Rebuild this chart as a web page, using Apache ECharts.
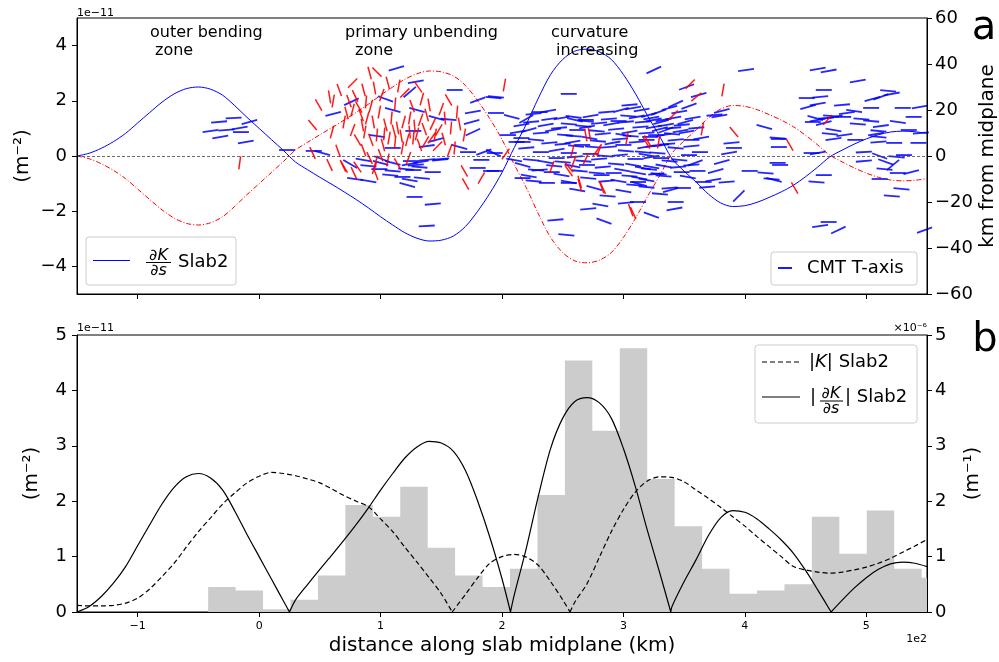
<!DOCTYPE html>
<html><head><meta charset="utf-8">
<script src="https://cdn.jsdelivr.net/npm/echarts@6/dist/echarts.min.js"></script>
<style>html,body{margin:0;padding:0;background:#fff}#c{width:999px;height:662px}</style>
</head><body><div id="c"></div>
<script>
// ---------- data ----------
// signed dK/ds (x1e-11 m^-2), sampled every 10 km
const xKm = [-150,-140,-130,-120,-110,-100,-90,-80,-70,-60,-50,-40,-30,-20,-10,0,10,20,30,40,50,60,70,80,90,100,110,120,130,140,150,160,170,180,190,200,210,220,230,240,250,260,270,280,290,300,310,320,330,340,350,360,370,380,390,400,410,420,430,440,450,460,470,480,490,500,510,520,530,540,550];
const dKds = [0,0.1,0.28,0.52,0.82,1.2,1.58,1.95,2.25,2.44,2.5,2.42,2.2,1.82,1.4,1.0,0.6,0.2,-0.22,-0.5,-0.77,-1.03,-1.3,-1.58,-1.88,-2.2,-2.5,-2.78,-2.98,-3.08,-3.05,-2.9,-2.55,-2.0,-1.35,-0.6,0.3,1.15,2.1,2.95,3.5,3.8,3.87,3.78,3.5,2.95,2.25,1.45,0.7,-0.1,-0.55,-0.95,-1.38,-1.7,-1.83,-1.8,-1.68,-1.5,-1.3,-1.06,-0.75,-0.4,-0.03,0.21,0.43,0.62,0.77,0.87,0.9,0.88,0.82];
const dKdsRed = [0,-0.1,-0.28,-0.52,-0.82,-1.2,-1.58,-1.95,-2.25,-2.44,-2.5,-2.42,-2.2,-1.82,-1.4,-1.0,-0.6,-0.2,0.22,0.5,0.77,1.03,1.3,1.58,1.88,2.2,2.5,2.78,2.98,3.08,3.05,2.9,2.55,2.0,1.35,0.6,-0.3,-1.15,-2.1,-2.95,-3.5,-3.8,-3.87,-3.78,-3.5,-2.95,-2.25,-1.45,-0.7,0.1,0.55,0.95,1.38,1.7,1.83,1.8,1.68,1.5,1.3,1.06,0.75,0.4,0.03,-0.21,-0.43,-0.62,-0.77,-0.87,-0.9,-0.88,-0.82];
// |dK/ds| with its zero crossings
const xAbs = [-150,-140,-130,-120,-110,-100,-90,-80,-70,-60,-50,-40,-30,-20,-10,0,10,20,25,30,40,50,60,70,80,90,100,110,120,130,140,150,160,170,180,190,200,207,210,220,230,240,250,260,270,280,290,300,310,320,330,339,340,350,360,370,380,390,400,410,420,430,440,450,460,471,480,490,500,510,520,530,540,550];
const dKdsAbs = [0,0.1,0.28,0.52,0.82,1.2,1.58,1.95,2.25,2.44,2.5,2.42,2.2,1.82,1.4,1.0,0.6,0.2,0,0.22,0.5,0.77,1.03,1.3,1.58,1.88,2.2,2.5,2.78,2.98,3.08,3.05,2.9,2.55,2.0,1.35,0.6,0,0.3,1.15,2.1,2.95,3.5,3.8,3.87,3.78,3.5,2.95,2.25,1.45,0.7,0,0.1,0.55,0.95,1.38,1.7,1.83,1.8,1.68,1.5,1.3,1.06,0.75,0.4,0,0.21,0.43,0.62,0.77,0.87,0.9,0.88,0.82];
const kX = [-150,-140,-130,-120,-110,-100,-90,-80,-70,-60,-50,-40,-30,-20,-10,0,10,20,30,40,50,60,70,80,90,100,110,120,130,140,150,159,170,180,190,200,210,220,230,240,250,256,260,270,280,290,300,310,320,330,340,350,360,370,380,390,400,410,420,430,440,450,460,470,480,490,500,510,520,530,540,550];
const kAbs = [0.12,0.11,0.11,0.12,0.16,0.25,0.42,0.64,0.88,1.17,1.45,1.7,1.95,2.15,2.33,2.45,2.52,2.5,2.46,2.4,2.33,2.22,2.1,2.0,1.9,1.68,1.45,1.17,0.9,0.62,0.33,0,0.32,0.62,0.88,1.0,1.04,0.99,0.84,0.55,0.22,0,0.18,0.51,0.98,1.45,1.85,2.17,2.37,2.44,2.43,2.35,2.2,2.05,1.89,1.72,1.55,1.36,1.18,1.0,0.82,0.76,0.72,0.7,0.72,0.76,0.81,0.88,0.97,1.08,1.19,1.31];
const histEdges = [-42,-19.4,3.2,25.8,48.4,71,93.6,116.2,138.8,161.4,184,206.6,229.2,251.8,274.4,297,319.6,342.2,364.8,387.4,410,432.6,455.2,477.8,500.4,523,545.6,568.2];
const histVals = [0.45,0.39,0.05,0.22,0.66,1.93,1.72,2.26,1.16,0.66,0.45,0.78,2.11,4.54,3.27,4.76,2.4,1.55,0.78,0.33,0.39,0.5,1.72,1.05,1.83,0.78,0.62];
const xTicks = [-100,0,100,200,300,400,500];
const yTicksTop = [-4,-2,0,2,4];
// CMT T-axis segments: [distance km, km from midplane, angle deg]
const cmtBlue = [
[-33,14.8,5],[-21,16.5,3],[-8,14.8,15],[-40,10.9,8],[-27,11.3,5],[-16,12.2,10],[-15,10.4,0],[-32,8.3,10],[-11,6.1,10],[23,2.6,0],[45,2.2,0],[52,1.3,-15],[61,18.3,15],
[113,38.1,17],[129,32.3,10],[124,27.8,40],[161,28.7,0],[76,23.6,25],[104,24.8,-20],[110,20,-15],[130,20,-15],[146,16.5,-15],[156,15.9,-5],[176,19.1,10],[180,24.3,20],[193,25.4,-5],[175,14.8,15],[176,10.4,25],[97,8.7,-8],[110,3.5,0],[127,10.9,0],[146,7,15],[138,4.3,8],[165,3.9,-15],[172,1.7,0],[150,-1.3,5],[125,-2.2,0],[129,-3.9,5],[121,-5.7,-5],[133,-2.6,10],[124,-3.5,10],[132,-4.8,-5],[127,-6.1,0],[138,-1.7,5],[149,-1.7,5],[183,-1.7,0],[185,1.7,20],[193,1.3,-25],[191,-6.5,0],[180,-5.2,0],[143,-7,0],[110,-6.5,-5],[108,-8.3,-5],[118,-9.1,0],[124,-10.4,-10],[122,-12.6,-15],[134,-9.6,-5],[79,-10,-8],[90,-10.9,-10],[128,-17.8,0],[143,-20.9,5],[138,-30.4,3],[75,-3.5,-30],[86,-1.7,-10],[90,-4.3,-5],[100,-3,-15],[110,-3,-15],[101,-1.3,-20],[99,-5.7,0],
[195,25.7,-5],[195,18.7,0],[208,17,-15],[220,16.1,30],[231,19.1,0],[255,27,0],[259,17,-8],[269,15.7,0],[305,22.2,5],[239,16.1,8],[217,6.1,0],[194,1.3,0],[194,-6.5,0],[217,-9.6,0],[231,-6.1,5],[249,-8.3,-10],[255,-11.7,0],[271,-23,5],[281,-21.3,-10],[284,-28.3,-20],[244,-27.8,5],[253,-34.3,-5],[287,-17.4,-5],[302,-20.4,5],[312,-11.3,0],
[216,13.5,10],[224,14.8,5],[236,13.5,10],[222,11.3,15],[232,10,5],[242,11.3,10],[216,7.8,0],[228,7,-5],[239,5.7,5],[220,3.5,5],[232,1.7,0],[245,2.6,10],[224,-1.7,-5],[236,-2.6,-10],[245,-0.9,0],[217,-3.9,-15],[228,-6.1,-5],[241,-7,0],[222,-8.7,-10],[212,6.1,0],[249,16.5,10],[273,17.4,10],[286,19.1,5],[298,20,15],[308,20.9,10],[302,14.8,5],
[260,15.7,-12],[269,15.2,-5],[255,13.9,-5],[267,13,-5],[280,14.3,5],[288,16.1,5],[304,17.4,-5],[311,17,10],[325,15.7,10],[335,13.5,10],[294,11.7,5],[305,10.4,10],[319,10,5],[333,9.1,10],[259,8.7,-5],[272,7.8,-10],[283,9.6,5],[297,7.4,5],[311,6.1,5],[325,4.3,5],[261,4.3,-5],[275,3.9,-5],[288,3.9,5],[302,2.2,-5],[316,1.7,-5],[255,1.3,0],[267,-2.2,-5],[280,-1.3,5],[294,-3.5,-5],[308,-3.9,-10],[321,-5.7,-5],[264,-6.5,-5],[278,-7.4,-5],[292,-7.4,0],[313,-9.6,-10],[327,-7.8,5],[286,-10.9,5],[255,-11.3,-10],[319,-13.5,-5],[338,-13.9,5],[338,-2.2,-5],
[315,20,10],[321,17.8,15],[329,19.1,20],[338,20.9,15],[346,19.1,10],[354,21.7,20],[316,14.8,5],[325,12.6,10],[333,15.7,10],[341,12.2,5],[351,14.8,15],[357,16.5,10],[319,7,0],[331,4.8,5],[343,3.5,-5],[356,4.3,5],[364,7.8,10],[319,0.4,-10],[331,-0.9,0],[346,-1.7,-5],[356,-3.9,5],[316,-5.2,-10],[333,-8.7,-5],[348,-7,0],[319,-10.4,-10],
[226,18.3,5],[238,19.6,10],[247,12.2,5],[252,9.1,-5],[262,11.3,0],[270,12.6,10],[278,10.9,-5],[290,13.9,10],[296,15.2,0],[300,9.1,-10],[314,12.6,5],[322,8.3,0],[330,11.7,15],[340,9.6,-5],[347,10.9,10],[360,12.2,5],[250,5.2,5],[258,6.1,10],[266,4.8,0],[279,6.5,-5],[291,5.7,10],[300,4.8,0],[306,8.7,-5],[318,3.9,10],[328,1.3,-5],[336,5.2,5],[250,-2.6,-5],[260,-0.4,5],[273,0.9,0],[285,0,-5],[297,0.4,5],[310,-1.3,0],[323,-0.4,10],[333,-4.3,-10],[345,-4.8,5],[353,-9.1,-10],[243,-4.3,-5],[258,-4.3,-10],[270,-3.9,0],[283,-4.8,5],[299,-6.1,-10],[305,-8.7,-5],[271,-9.6,-5],[282,-8.3,0],[296,-10.9,-10],[309,-12.6,-5],[262,-14.8,-10],[276,-13.9,-15],[300,-15.2,-10],[330,-16.5,-5],[226,-10.9,-5],[237,-11.7,0],[210,-1.7,-10],[213,10.4,10],[205,9.1,0],
[325,37.4,25],[352,30,20],[362,26.5,15],[401,37.4,8],[343,22.6,25],[323,16.5,10],[331,14.8,15],[341,16.5,10],[348,13.5,5],[335,11.3,20],[352,10.4,10],[327,9.1,0],[343,7,5],[356,7,0],[381,19.6,15],[375,17.8,5],[379,17.4,10],[416,12.6,-15],[427,7.8,-5],[389,5.7,5],[391,3.5,0],[387,1.3,10],[363,1.7,0],[354,0.4,0],[359,-3,20],[361,-6.5,0],[381,-2.6,15],[376,-6.5,15],[366,-11.3,0],[374,-10.4,10],[385,-11.3,5],[349,-13.9,0],[369,-13.5,5],[339,-14.8,15],[343,-20,0],[342,-23,10],[323,-25.7,-20],[395,-17.4,45],[404,-6.5,0],[417,-7.4,-5],[422,-10,-5],[427,-3,0],[312,-7.4,-10],[313,-12.2,-15],[323,-4.8,-10],[329,-7.8,-5],[312,-20,0],
[460,37.8,10],[469,37,10],[493,32.6,10],[465,28.7,0],[451,25.2,0],[462,25.7,5],[518,28.3,-5],[505,24.8,15],[512,25.7,20],[521,27,10],[480,22.2,5],[452,21.3,15],[460,22.6,10],[490,19.6,-8],[504,20.9,0],[530,20.9,0],[544,21.3,10],[458,16.5,-15],[460,15.7,10],[467,16.5,5],[465,14.3,15],[471,17.4,-5],[456,14.8,0],[474,17,10],[481,17,0],[484,18.7,8],[496,16.1,-5],[493,13.9,-5],[504,15.2,-5],[512,13,8],[510,10.9,-5],[508,9.6,10],[526,14.8,-8],[535,11.3,0],[539,17,0],[545,10,5],[473,11.3,-10],[470,9.6,-5],[473,7.4,8],[482,9.1,8],[491,7,0],[510,8.3,-5],[510,6.1,5],[523,5.7,0],[543,5.7,0],[428,7.4,0],[428,3.9,0],[460,1.3,10],[455,1.3,0],[498,1.7,3],[511,0,-20],[498,-2.2,5],[525,-0.4,-5],[531,0.4,0],[516,-2.6,-20],[522,-3.9,40],[515,-5.7,-5],[537,-7,15],[526,-7.4,0],[429,-3.9,0],[465,-8.3,0],[459,-11.3,-5],[511,-10,0],[529,-14.3,-5],[521,-17.4,-5],[462,-30.4,8],[469,-28.7,0],[477,-32.2,25],[548,-32.2,20],[424,-10.4,-15]
];
const cmtRed = [
[-16,-3,82],[44,13.5,-50],[49,22.2,-60],[58,25.7,-80],[61,23.9,80],[44,1.3,-65],[58,-3.9,-65],[69,-4.3,-65],
[91,36.1,-75],[97,36.5,-45],[77,31.7,45],[86,28.7,-75],[112,22.6,85],[120,27.4,45],[131,30,-55],[74,23.9,-70],[72,18.7,-75],[77,20,75],[82,21.3,-60],
[84,17.8,-70],[89,16.5,75],[94,14.8,-80],[99,19.1,80],[104,13.5,-75],[109,16.5,85],[114,12.2,-80],[119,14.8,75],[124,16.5,80],[128,13,-85],[133,15.7,70],[138,17.8,-75],[143,13.9,65],[148,11.3,60],[153,16.5,-85],[158,12.2,85],
[87,10.4,80],[92,7,-70],[97,9.1,85],[102,4.8,-75],[107,7.8,80],[112,6.1,85],[117,8.7,-80],[122,7,75],[127,7.8,85],[132,4.8,-70],[137,6.1,60],[142,7.8,55],[147,4.3,45],[81,7,-60],[77,11.3,70],[86,2.6,-70],[91,-0.9,-65],[96,-2.6,75],
[161,3.5,85],[169,9.1,80],[183,-9.6,60],[169,-6.5,-60],[70,-4.8,-60],[81,-4.8,-55],[95,-5.2,70],[96,-7.8,-70],
[66,28.7,-70],[70,14.8,80],[79,26.1,-65],[88,23.5,85],[95,29.6,-80],[101,26.5,70],[106,31.7,-75],[115,30.4,80],[126,21.7,-70],[134,24.8,75],[140,22.2,-80],[150,20.4,70],[156,24.3,-60],[163,19.1,85],[85,13.5,-80],[92,21.7,75],[103,9.6,85],[111,10.9,-75],[118,3.5,80],[124,10.4,-85],[130,9.6,75],[136,11.7,-70],[145,9.1,80],[152,7.4,-75],[157,2.6,70],[165,13.9,-80],[100,0.4,-70],[106,-1.7,80],[114,-3.5,-60],[123,-0.9,70],[78,-7.4,-65],[65,2.2,-70],[60,10.4,75],[170,-12.2,-60],
[202,30.9,80],[203,0.9,55],[241,-4.8,70],[255,-4.8,-50],[258,2.2,75],[264,-12.6,-75],[272,9.6,-80],[278,2.2,55],[282,-13.5,-70],[306,-23.5,-70],[303,7.8,80],
[269,9.1,-80],[280,2.6,70],[319,5.7,-60],[329,6.1,80],[259,-2.6,70],[269,-1.3,65],[255,-6.5,-55],[283,-13.9,-65],[264,-11.3,-75],
[355,31.3,45],[360,25.7,40],[382,28.7,80],[365,11.7,80],[391,10.4,-50],[341,17.8,45],[320,6.5,-60],[308,-24.8,-65],
[468,15.7,50],[441,-13.9,-60],[437,4.8,-60]
];

// ---------- helpers ----------
const FONT = 'DejaVu Sans';
const pair = (xs, ys) => xs.map((x, i) => [x, ys[i]]);
// break an |f| curve at its interior zeros so each lobe is smoothed separately (sharp V at zeros)
function lobes(xs, ys) {
  const out = [];
  xs.forEach((x, i) => {
    out.push([x, ys[i]]);
    if (ys[i] === 0 && i > 0 && i < xs.length - 1) { out.push(null); out.push([x, ys[i]]); }
  });
  return out;
}
const histData = histEdges.map((e, i) => [e, histVals[Math.min(i, histVals.length - 1)]]);
const minus = v => (v < 0 ? '\u2212' + (-v) : '' + v);

function segRender(len, color, width, op) {
  return function (params, api) {
    const c = api.coord([api.value(0), api.value(1)]);
    const a = api.value(2) * Math.PI / 180;
    const dx = Math.cos(a) * len / 2, dy = Math.sin(a) * len / 2;
    return { type: 'line', shape: { x1: c[0] - dx, y1: c[1] + dy, x2: c[0] + dx, y2: c[1] - dy },
             style: { stroke: color, lineWidth: width, opacity: op } };
  };
}
function T(x, y, text, size, extra) {
  return { type: 'text', x: x, y: y, z: 100,
    style: Object.assign({ text: text, fontSize: size, fontFamily: FONT, fill: '#000', align: 'left', verticalAlign: 'middle' }, extra || {}) };
}
function L(x1, y1, x2, y2, color, w, dash) {
  return { type: 'line', z: 100, shape: { x1, y1, x2, y2 }, style: { stroke: color, lineWidth: w, lineDash: dash || null } };
}
function box(x, y, w, h) {
  return { type: 'rect', z: 99, shape: { x, y, width: w, height: h, r: 3 }, style: { fill: 'rgba(255,255,255,0.8)', stroke: '#cccccc', lineWidth: 1 } };
}

const axLine = { show: true, onZero: false, lineStyle: { color: '#000', width: 1 } };
const axTick = { show: true, inside: false, length: 5, lineStyle: { color: '#000', width: 1 } };
const lbl = (size, margin) => ({ color: '#000', fontSize: size, fontFamily: FONT, margin: margin });
const nameStyle = { color: '#000', fontSize: 20, fontFamily: FONT };

const chart = echarts.init(document.getElementById('c'), null, { renderer: 'canvas' });
chart.setOption({
  animation: false,
  backgroundColor: '#fff',
  grid: [
    { left: 77, top: 18, width: 850, height: 276, show: true, borderColor: '#000', borderWidth: 1, containLabel: false, outerBoundsMode: 'none' },
    { left: 77, top: 335, width: 850, height: 277, show: true, borderColor: '#000', borderWidth: 1, containLabel: false, outerBoundsMode: 'none' }
  ],
  xAxis: [
    { type: 'value', gridIndex: 0, min: -150, max: 550, z: 10, axisLine: axLine,
      axisTick: Object.assign({ customValues: xTicks }, axTick),
      axisLabel: { show: false, customValues: xTicks }, splitLine: { show: false } },
    { type: 'value', gridIndex: 1, min: -150, max: 550, z: 10, axisLine: axLine,
      axisTick: Object.assign({ customValues: xTicks }, axTick),
      axisLabel: Object.assign({ customValues: xTicks, formatter: v => minus(v / 100) }, lbl(11, 9)),
      splitLine: { show: false },
      name: 'distance along slab midplane (km)', nameLocation: 'middle', nameGap: 24, nameMoveOverlap: false,
      nameTextStyle: nameStyle }
  ],
  yAxis: [
    { type: 'value', gridIndex: 0, position: 'left', min: -5, max: 5, z: 10, axisLine: axLine,
      axisTick: Object.assign({ customValues: yTicksTop }, axTick),
      axisLabel: Object.assign({ customValues: yTicksTop, formatter: minus }, lbl(18, 10)),
      splitLine: { show: false },
      name: '(m\u207B\u00B2)', nameLocation: 'middle', nameRotate: 90, nameGap: 44, nameMoveOverlap: false,
      nameTextStyle: nameStyle },
    { type: 'value', gridIndex: 0, position: 'right', min: -60, max: 60, interval: 20, z: 10, axisLine: axLine,
      axisTick: axTick, axisLabel: Object.assign({ formatter: minus }, lbl(18, 8)), splitLine: { show: false },
      name: 'km from midplane', nameLocation: 'middle', nameRotate: 90, nameGap: 51, nameMoveOverlap: false,
      nameTextStyle: nameStyle },
    { type: 'value', gridIndex: 1, position: 'left', min: 0, max: 5, interval: 1, z: 10, axisLine: axLine,
      axisTick: axTick, axisLabel: lbl(18, 10), splitLine: { show: false },
      name: '(m\u207B\u00B2)', nameLocation: 'middle', nameRotate: 90, nameGap: 35, nameMoveOverlap: false,
      nameTextStyle: nameStyle },
    { type: 'value', gridIndex: 1, position: 'right', min: 0, max: 5, interval: 1, z: 10, axisLine: axLine,
      axisTick: axTick, axisLabel: lbl(18, 8), splitLine: { show: false },
      name: '(m\u207B\u00B9)', nameLocation: 'middle', nameRotate: 90, nameGap: 36, nameMoveOverlap: false,
      nameTextStyle: nameStyle }
  ],
  series: [
    { type: 'line', xAxisIndex: 0, yAxisIndex: 0, data: pair(xKm, dKds), showSymbol: false, symbol: 'none', smooth: 0.3,
      lineStyle: { color: '#0000ff', width: 1 }, z: 2,
      markLine: { silent: true, symbol: ['none', 'none'], label: { show: false },
        lineStyle: { color: '#444', type: [3, 2], width: 0.8 }, data: [{ yAxis: 0 }] } },
    { type: 'line', xAxisIndex: 0, yAxisIndex: 0, data: pair(xKm, dKdsRed), showSymbol: false, symbol: 'none', smooth: 0.3,
      lineStyle: { color: '#ff0000', width: 1, type: [5, 2, 1, 2] }, z: 2 },
    { type: 'custom', xAxisIndex: 0, yAxisIndex: 1, data: cmtBlue, renderItem: segRender(16, '#0000ff', 1.8, 0.85), z: 3,
      encode: { x: 0, y: 1 } },
    { type: 'custom', xAxisIndex: 0, yAxisIndex: 1, data: cmtRed, renderItem: segRender(13, '#ff0000', 1.5, 0.9), z: 4,
      encode: { x: 0, y: 1 } },
    { type: 'line', xAxisIndex: 1, yAxisIndex: 2, data: histData, step: 'end', showSymbol: false, symbol: 'none',
      lineStyle: { width: 0, color: '#cccccc' }, areaStyle: { color: '#cccccc', opacity: 1 }, z: 1 },
    { type: 'line', xAxisIndex: 1, yAxisIndex: 3, data: lobes(kX, kAbs), showSymbol: false, symbol: 'none', smooth: 0.3, connectNulls: false,
      lineStyle: { color: '#000', width: 1.2, type: [5, 3] }, z: 3 },
    { type: 'line', xAxisIndex: 1, yAxisIndex: 2, data: lobes(xAbs, dKdsAbs), showSymbol: false, symbol: 'none', smooth: 0.3, connectNulls: false,
      lineStyle: { color: '#000', width: 1.2 }, z: 3 }
  ],
  graphic: [
    T(150, 33, 'outer bending', 16), T(155, 50.5, 'zone', 16),
    T(345, 33, 'primary unbending', 16), T(355, 50.5, 'zone', 16),
    T(551, 33, 'curvature', 16), T(556, 50.5, 'increasing', 16),
    T(984, 29, 'a', 40, { align: 'center' }), T(985, 341, 'b', 40, { align: 'center' }),
    T(77, 13, '1e\u221211', 11), T(77, 328.5, '1e\u221211', 11),
    T(927, 328.5, '\u00D710\u207B\u2076', 11, { align: 'right' }),
    T(927, 639.5, '1e2', 11, { align: 'right' }),
    box(86, 237, 150, 48),
    L(93, 260.5, 130, 260.5, '#0000ff', 1),
    T(158.5, 256, '\u2202K', 16, { align: 'center', fontStyle: 'italic' }),
    L(146, 262.5, 171, 262.5, '#000', 1),
    T(158.5, 271, '\u2202s', 16, { align: 'center', fontStyle: 'italic' }),
    T(178, 262, 'Slab2', 18),
    box(771, 252, 146, 33),
    L(778, 268, 792, 268, '#0000ff', 1.8),
    T(807, 268.5, 'CMT T-axis', 18),
    box(755, 345, 162, 78),
    L(762, 362, 800, 362, '#000', 1.2, [5, 3]),
    { type: 'text', x: 809, y: 362.5, z: 100, style: { text: '{n||}{i|K}{n|| Slab2}', fontSize: 18, fontFamily: FONT, fill: '#000', align: 'left', verticalAlign: 'middle',
      rich: { n: { fontSize: 18, fontFamily: FONT, fill: '#000' }, i: { fontSize: 18, fontFamily: FONT, fontStyle: 'italic', fill: '#000' } } } },
    L(762, 397, 800, 397, '#000', 1.2),
    T(810, 397.5, '|', 18),
    T(831, 394, '\u2202K', 16, { align: 'center', fontStyle: 'italic' }),
    L(820, 401, 843, 401, '#000', 1),
    T(831, 409, '\u2202s', 16, { align: 'center', fontStyle: 'italic' }),
    T(845, 397.5, '| Slab2', 18)
  ]
});
</script>
</body></html>
